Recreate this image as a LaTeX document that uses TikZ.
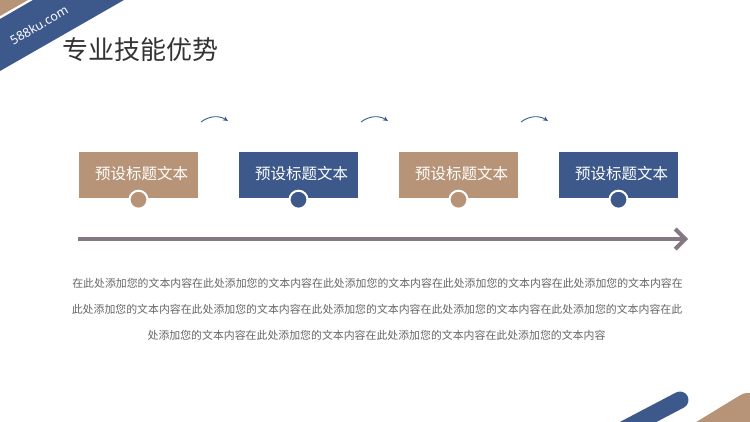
\documentclass[tikz,border=0pt]{standalone}
\usepackage{fontspec}
\newfontfamily\cjk{Noto Sans CJK SC}
\newfontfamily\latinsans{Noto Sans}
\usetikzlibrary{arrows.meta}
\definecolor{tanbox}{HTML}{B79478}
\definecolor{bluebox}{HTML}{3D598B}
\definecolor{bartone}{HTML}{857884}
\definecolor{titlegray}{HTML}{333333}
\definecolor{bodygray}{HTML}{666666}
\tikzset{
  titlebox/.style={rectangle, minimum width=119pt, minimum height=46pt, inner sep=0},
  boxtext/.style={text=white, inner sep=0, font=\cjk\fontsize{15.5}{18}\selectfont},
  knob/.style={circle, draw=white, line width=2pt, minimum size=18pt, inner sep=0},
  bodyline/.style={text=bodygray, inner sep=0, font=\cjk\fontsize{10.9}{13}\selectfont},
}

\begin{document}
\begin{tikzpicture}[x=1pt, y=-1pt]
\useasboundingbox (0,0) rectangle (750,421);
\fill[white] (0,0) rectangle (750,421);
\clip (0,0) rectangle (750,421);
% corner bands
\fill[tanbox] (0,0) -- (28,0) -- (0,16) -- cycle;
\fill[bluebox] (33,0) -- (124,0) -- (0,71) -- (0,19) -- cycle;
\node[rotate=30, text=white, inner sep=0, font=\latinsans\fontsize{12.5}{14}\selectfont] (site) at (39,25) {588ku.com};
\draw[bluebox, line width=17pt, line cap=round] (680,400) -- (600,442);
\draw[tanbox, line width=30pt, line cap=round] (748,408) -- (689,444);
% title
\node[anchor=west, text=titlegray, inner sep=0, font=\cjk\fontsize{26}{30}\selectfont] (title) at (62,50) {专业技能优势};
% steps
\foreach \i/\c in {0/tanbox,1/bluebox,2/tanbox,3/bluebox} {
  \node[titlebox, fill=\c] (box\i) at (138.5+160*\i,175) {};
  \node[boxtext] (txt\i) at ([xshift=3pt, yshift=1.5pt]box\i.center) {预设标题文本};
  \node[knob, fill=\c] (knob\i) at ([yshift=-1.5pt]box\i.south) {};
}
\foreach \i in {0,1,2} {
  \coordinate (cs\i) at (201+160*\i,122);
  \coordinate (ce\i) at (228+160*\i,121);
  \draw[bluebox, line width=0.9pt, -{Stealth[length=5pt, width=4.5pt]}] (cs\i) to[bend left=35] (ce\i);
}
% time line
\coordinate (ln0) at (78,239);
\coordinate (ln1) at (688,239);
\draw[bartone, line width=4pt, -{Straight Barb[length=10pt, width=20pt]}] (ln0) -- (ln1);
% body text
\node[bodyline] (body1) at (377.5,283) {在此处添加您的文本内容在此处添加您的文本内容在此处添加您的文本内容在此处添加您的文本内容在此处添加您的文本内容在};
\node[bodyline] (body2) at (377,309) {此处添加您的文本内容在此处添加您的文本内容在此处添加您的文本内容在此处添加您的文本内容在此处添加您的文本内容在此};
\node[bodyline] (body3) at (376.5,335) {处添加您的文本内容在此处添加您的文本内容在此处添加您的文本内容在此处添加您的文本内容};
\end{tikzpicture}
\end{document}
